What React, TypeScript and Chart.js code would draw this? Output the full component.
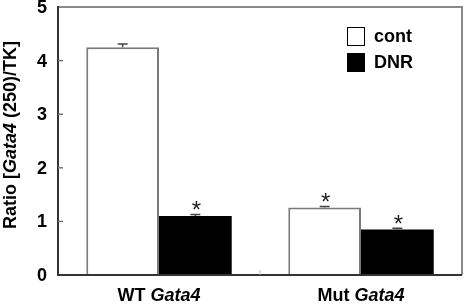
import React, { useEffect, useRef } from "react";
import { Chart, registerables } from "chart.js";

Chart.register(...registerables);

const categories = ["WT", "Mut"];
const geneName = "Gata4";
const yTicks = [0, 1, 2, 3, 4, 5];
const contValues = [4.25, 1.26];
const contErrors = [0.06, 0.02];
const contSig = [false, true];
const dnrValues = [1.1, 0.85];
const dnrErrors = [0.03, 0.02];
const dnrSig = [true, true];
const seriesLabels = ["cont", "DNR"];

const FONT = "'Liberation Sans', Arial, sans-serif";

const decorPlugin = {
  id: "decor",
  afterDatasetsDraw(chart: any) {
    const ctx = chart.ctx;
    const area = chart.chartArea;
    const x = chart.scales.x;
    const y = chart.scales.y;
    ctx.save();

    // frame: top and right in gray
    ctx.strokeStyle = "#8a8a8a";
    ctx.lineWidth = 2;
    ctx.beginPath();
    ctx.moveTo(area.left, area.top);
    ctx.lineTo(area.right, area.top);
    ctx.lineTo(area.right, area.bottom);
    ctx.stroke();

    // left and bottom axes
    ctx.strokeStyle = "#333";
    ctx.lineWidth = 2;
    ctx.beginPath();
    ctx.moveTo(area.left, area.top - 1);
    ctx.lineTo(area.left, area.bottom);
    ctx.lineTo(area.right, area.bottom);
    ctx.stroke();

    // y ticks (inside) and labels
    ctx.fillStyle = "#000";
    ctx.font = `bold 18px ${FONT}`;
    ctx.textAlign = "right";
    ctx.textBaseline = "middle";
    yTicks.forEach((t) => {
      const py = y.getPixelForValue(t);
      if (t > 0 && t < 5) {
        ctx.strokeStyle = "#777";
        ctx.lineWidth = 1.5;
        ctx.beginPath();
        ctx.moveTo(area.left, py);
        ctx.lineTo(area.left + 5, py);
        ctx.stroke();
      }
      ctx.fillText(String(t), area.left - 11, py + 1);
    });

    // x category boundary tick
    const step = (area.right - area.left) / categories.length;
    ctx.strokeStyle = "#bbb";
    ctx.lineWidth = 1;
    for (let i = 1; i < categories.length; i++) {
      const px = area.left + step * i;
      ctx.beginPath();
      ctx.moveTo(px, area.bottom);
      ctx.lineTo(px, area.bottom - 5);
      ctx.stroke();
    }

    // x labels with italic gene name
    ctx.textBaseline = "middle";
    ctx.textAlign = "left";
    categories.forEach((c, i) => {
      const cx = x.getPixelForValue(i);
      ctx.font = `bold 18px ${FONT}`;
      const a = c + " ";
      const wa = ctx.measureText(a).width;
      ctx.font = `italic bold 18px ${FONT}`;
      const wb = ctx.measureText(geneName).width;
      const start = cx - (wa + wb) / 2;
      ctx.font = `bold 18px ${FONT}`;
      ctx.fillText(a, start, area.bottom + 21);
      ctx.font = `italic bold 18px ${FONT}`;
      ctx.fillText(geneName, start + wa, area.bottom + 21);
    });

    // y title rotated
    ctx.save();
    ctx.translate(11, (area.top + area.bottom) / 2 - 6);
    ctx.rotate(-Math.PI / 2);
    const parts: [string, boolean][] = [
      ["Ratio [", false],
      [geneName, true],
      [" (250)/TK]", false],
    ];
    let total = 0;
    parts.forEach(([s, it]) => {
      ctx.font = `${it ? "italic " : ""}bold 18px ${FONT}`;
      total += ctx.measureText(s).width;
    });
    let pos = -total / 2;
    ctx.textAlign = "left";
    ctx.textBaseline = "middle";
    parts.forEach(([s, it]) => {
      ctx.font = `${it ? "italic " : ""}bold 18px ${FONT}`;
      ctx.fillText(s, pos, 0);
      pos += ctx.measureText(s).width;
    });
    ctx.restore();

    // error bars and asterisks
    const errs = [contErrors, dnrErrors];
    const sigs = [contSig, dnrSig];
    const vals = [contValues, dnrValues];
    chart.data.datasets.forEach((ds: any, di: number) => {
      const meta = chart.getDatasetMeta(di);
      meta.data.forEach((bar: any, i: number) => {
        const top = y.getPixelForValue(vals[di][i] + errs[di][i]);
        const base = y.getPixelForValue(vals[di][i]);
        ctx.strokeStyle = "#444";
        ctx.lineWidth = 1.5;
        ctx.beginPath();
        ctx.moveTo(bar.x, base);
        ctx.lineTo(bar.x, top);
        ctx.moveTo(bar.x - 5, top);
        ctx.lineTo(bar.x + 5, top);
        ctx.stroke();
        if (sigs[di][i]) {
          ctx.fillStyle = "#222";
          ctx.font = `24px ${FONT}`;
          ctx.textAlign = "center";
          ctx.textBaseline = "alphabetic";
          ctx.fillText("*", bar.x + 1, top - 10 + 14);
        }
      });
    });

    // legend
    const lx = 347;
    const ly = [27, 53];
    const fills = ["#fff", "#000"];
    seriesLabels.forEach((lab, i) => {
      ctx.fillStyle = fills[i];
      ctx.fillRect(lx, ly[i], 18, 19);
      ctx.strokeStyle = "#000";
      ctx.lineWidth = 1;
      ctx.strokeRect(lx + 0.5, ly[i] + 0.5, 17, 18);
      ctx.fillStyle = "#000";
      ctx.font = `bold 18px ${FONT}`;
      ctx.textAlign = "left";
      ctx.textBaseline = "middle";
      ctx.fillText(lab, lx + 27, ly[i] + 10);
    });

    ctx.restore();
  },
};

export default function App() {
  const ref = useRef<HTMLCanvasElement | null>(null);
  useEffect(() => {
    if (!ref.current) return;
    const chart = new Chart(ref.current, {
      type: "bar",
      data: {
        labels: categories,
        datasets: [
          {
            label: seriesLabels[0],
            data: contValues,
            backgroundColor: "#ffffff",
            borderColor: "#7a7a7a",
            borderWidth: 2,
            categoryPercentage: 0.72,
            barPercentage: 1,
          },
          {
            label: seriesLabels[1],
            data: dnrValues,
            backgroundColor: "#000000",
            borderColor: "#000000",
            borderWidth: 0,
            categoryPercentage: 0.72,
            barPercentage: 1,
          },
        ],
      },
      options: {
        responsive: false,
        animation: false,
        layout: { padding: { left: 58, top: 7, right: 4, bottom: 31 } },
        plugins: { legend: { display: false }, tooltip: { enabled: false } },
        scales: {
          x: { display: false },
          y: { display: false, min: 0, max: 5 },
        },
      },
      plugins: [decorPlugin],
    });
    return () => chart.destroy();
  }, []);
  return (
    <div style={{ position: "absolute", left: 0, top: 0, width: 466, height: 306, background: "#fff" }}>
      <canvas ref={ref} width={466} height={306} />
    </div>
  );
}
